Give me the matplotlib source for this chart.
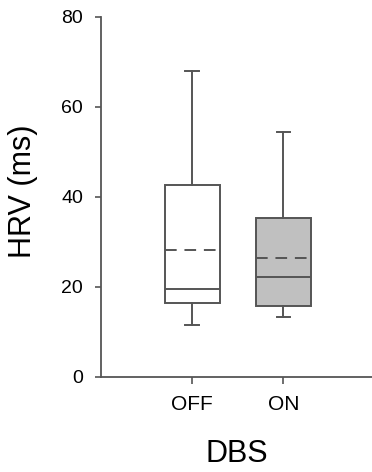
import matplotlib.pyplot as plt

plt.rcParams['font.family'] = ['Liberation Sans', 'DejaVu Sans']

groups = ['OFF', 'ON']
whislo = [11.6, 13.3]
q1 = [16.4, 15.8]
med = [19.6, 22.3]
q3 = [42.7, 35.3]
whishi = [68.1, 54.5]
means = [28.3, 26.5]
fills = ['white', '#c0c0c0']

line_col = '#555555'

stats = []
for i, g in enumerate(groups):
    stats.append({'label': g, 'whislo': whislo[i], 'q1': q1[i], 'med': med[i],
                  'q3': q3[i], 'whishi': whishi[i], 'mean': means[i], 'fliers': []})

fig = plt.figure(figsize=(3.72, 4.72), dpi=100)
ax = fig.add_axes([0.2715, 0.2013, 0.7285, 0.7627])

bp = ax.bxp(stats, positions=[1, 2], widths=0.6, patch_artist=True,
            showmeans=True, meanline=True, showfliers=False,
            boxprops=dict(edgecolor=line_col, linewidth=1.4),
            whiskerprops=dict(color=line_col, linewidth=1.4),
            capprops=dict(color=line_col, linewidth=1.4),
            medianprops=dict(color=line_col, linewidth=1.4),
            meanprops=dict(color=line_col, linewidth=1.4, linestyle=(0, (6, 4))),
            capwidths=0.15)
for patch, c in zip(bp['boxes'], fills):
    patch.set_facecolor(c)

ax.set_xlim(0, 2.97)
ax.set_ylim(0, 80)
ax.set_yticks([0, 20, 40, 60, 80])
ax.set_xticks([1, 2])
ax.set_xticklabels(groups, fontsize=15)
ax.tick_params(axis='y', labelsize=14, color=line_col, length=4, width=1.2, pad=9)
ax.tick_params(axis='x', color=line_col, length=5, width=1.2, pad=8)
for s in ['top', 'right']:
    ax.spines[s].set_visible(False)
for s in ['left', 'bottom']:
    ax.spines[s].set_color(line_col)
    ax.spines[s].set_linewidth(1.3)

ax.set_ylabel('HRV (ms)', fontsize=22)
ax.yaxis.set_label_coords(-0.232, 0.517)
ax.set_xlabel('DBS', fontsize=22, labelpad=18)

fig.savefig('out.png', dpi=100)
